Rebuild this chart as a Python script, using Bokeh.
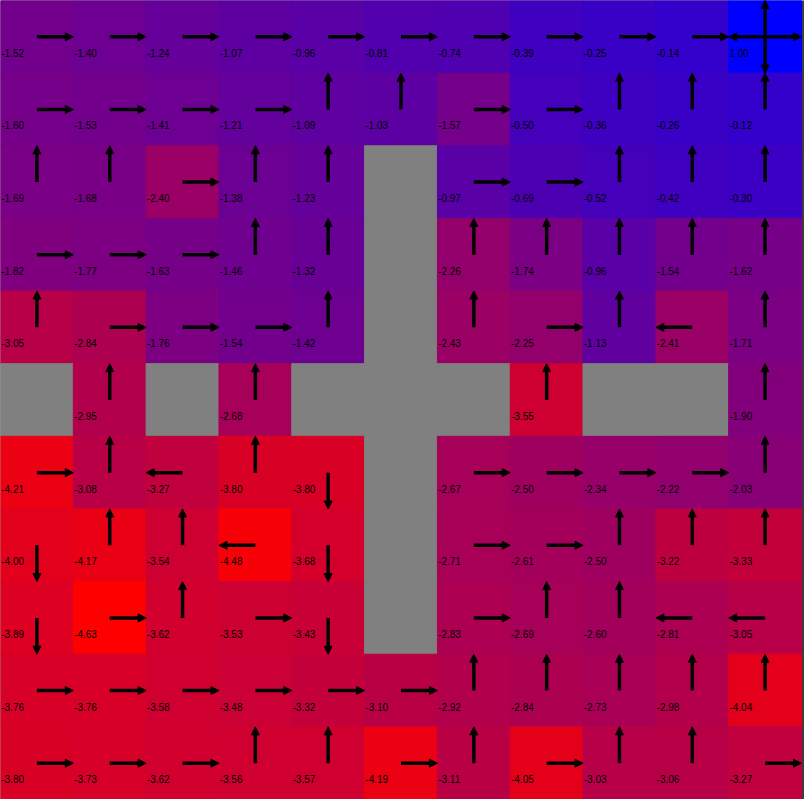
from bokeh.plotting import figure
from bokeh.models import ColumnDataSource, Range1d, Arrow, NormalHead
from bokeh.core.properties import value
from bokeh.embed import file_html
from bokeh.resources import INLINE

# State values per row (top row first); None marks a wall cell
row_values = [
    [-1.52, -1.40, -1.24, -1.07, -0.96, -0.81, -0.74, -0.39, -0.25, -0.14, 1.00],
    [-1.60, -1.53, -1.41, -1.21, -1.09, -1.03, -1.57, -0.50, -0.36, -0.26, -0.12],
    [-1.69, -1.68, -2.40, -1.38, -1.23, None, -0.97, -0.69, -0.52, -0.42, -0.30],
    [-1.82, -1.77, -1.63, -1.46, -1.32, None, -2.26, -1.74, -0.96, -1.54, -1.62],
    [-3.05, -2.84, -1.76, -1.54, -1.42, None, -2.43, -2.25, -1.13, -2.41, -1.71],
    [None, -2.95, None, -2.68, None, None, None, -3.55, None, None, -1.90],
    [-4.21, -3.08, -3.27, -3.80, -3.80, None, -2.67, -2.50, -2.34, -2.22, -2.03],
    [-4.00, -4.17, -3.54, -4.48, -3.68, None, -2.71, -2.61, -2.50, -3.22, -3.33],
    [-3.89, -4.63, -3.62, -3.53, -3.43, None, -2.83, -2.69, -2.60, -2.81, -3.05],
    [-3.76, -3.76, -3.58, -3.48, -3.32, -3.10, -2.92, -2.84, -2.73, -2.98, -4.04],
    [-3.80, -3.73, -3.62, -3.56, -3.57, -4.19, -3.11, -4.05, -3.03, -3.06, -3.27],
]

# Greedy policy per cell: R right, L left, U up, D down, * all four, . wall
row_policy = [
    "RRRRRRRRRR*",
    "RRRRUURRUUU",
    "UURUU.RRUUU",
    "RRRUU.UUUUU",
    "URRRU.URULU",
    ".U.U...U..U",
    "RULUD.RRRRU",
    "DUULD.RRUUU",
    "DRURD.RUULL",
    "RRRRRRUUUUU",
    "RRRUURURUUR",
]

n_rows = len(row_values)
n_cols = len(row_values[0])

all_vals = [v for row in row_values for v in row if v is not None]
vmin, vmax = min(all_vals), max(all_vals)


def cell_color(v):
    t = (v - vmin) / (vmax - vmin)
    r = int(round(255 * (1 - t)))
    b = int(round(255 * t))
    return "#%02x%02x%02x" % (r, 0, b)


cx, cy, colors = [], [], []
tx, ty, texts = [], [], []
x0s, y0s, x1s, y1s = [], [], [], []
for r in range(n_rows):
    for c in range(n_cols):
        v = row_values[r][c]
        cx.append(c + 0.5)
        cy.append(r + 0.5)
        if v is None:
            colors.append("#808080")
            continue
        colors.append(cell_color(v))
        tx.append(c + 0.01)
        ty.append(r + 0.72)
        texts.append("%.2f" % v)
        a = row_policy[r][c]
        dirs = ["R", "L", "U", "D"] if a == "*" else [a]
        for d in dirs:
            x0s.append(c + 0.5)
            y0s.append(r + 0.5)
            if d == "R":
                x1s.append(c + 1.0); y1s.append(r + 0.5)
            elif d == "L":
                x1s.append(c + 0.0); y1s.append(r + 0.5)
            elif d == "U":
                x1s.append(c + 0.5); y1s.append(r + 0.0)
            else:
                x1s.append(c + 0.5); y1s.append(r + 1.0)

W, H = 804, 799
grid_w = 801
p = figure(width=W, height=H, output_backend="svg", toolbar_location=None,
           x_range=Range1d(0, n_cols * W / grid_w), y_range=Range1d(n_rows, 0),
           min_border=0, min_border_left=0, min_border_right=0,
           min_border_top=0, min_border_bottom=0)
p.axis.visible = False
p.grid.visible = False
p.outline_line_color = None
p.background_fill_color = "#3c3c3c"
p.border_fill_color = "#3c3c3c"

cells = ColumnDataSource(dict(x=cx, y=cy, color=colors))
p.rect(x="x", y="y", width=1, height=1, source=cells, fill_color="color",
       line_color="color", line_width=1)

labels = ColumnDataSource(dict(x=tx, y=ty, text=texts))
p.text(x="x", y="y", text="text", source=labels, text_font=value("Liberation Sans"),
       text_font_size="10px", text_color="black", text_baseline="alphabetic",
       text_align="left")

arrows = ColumnDataSource(dict(x0=x0s, y0=y0s, x1=x1s, y1=y1s))
p.add_layout(Arrow(end=NormalHead(size=8, fill_color="black", line_color="black",
                                  line_width=1),
                   x_start="x0", y_start="y0", x_end="x1", y_end="y1",
                   source=arrows, line_width=3.5, line_color="black"))

open("out.html", "w").write(file_html(p, INLINE))
